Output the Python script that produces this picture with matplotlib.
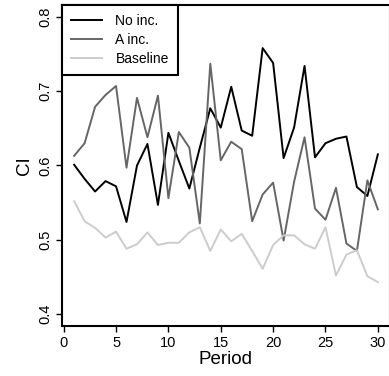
import numpy as np
import matplotlib
matplotlib.use('Agg')
import matplotlib.pyplot as plt

plt.rcParams['font.family'] = ['Liberation Sans', 'DejaVu Sans']

# data
period = list(range(1, 31))
no_inc = [0.601, 0.582, 0.565, 0.579, 0.572, 0.524, 0.600, 0.629, 0.547, 0.644,
          0.606, 0.569, 0.624, 0.677, 0.651, 0.706, 0.647, 0.640, 0.758, 0.738,
          0.610, 0.651, 0.734, 0.611, 0.630, 0.636, 0.639, 0.571, 0.559, 0.615]
a_inc = [0.613, 0.630, 0.679, 0.695, 0.707, 0.597, 0.691, 0.638, 0.694, 0.556,
         0.645, 0.624, 0.522, 0.737, 0.607, 0.632, 0.622, 0.525, 0.561, 0.577,
         0.499, 0.578, 0.638, 0.542, 0.527, 0.570, 0.495, 0.485, 0.580, 0.541]
baseline = [0.552, 0.525, 0.516, 0.503, 0.511, 0.488, 0.494, 0.510, 0.493, 0.496,
            0.496, 0.510, 0.517, 0.485, 0.514, 0.498, 0.508, 0.485, 0.461, 0.493,
            0.506, 0.506, 0.494, 0.488, 0.517, 0.452, 0.480, 0.486, 0.451, 0.443]

W, H = 389, 376
fig = plt.figure(figsize=(W / 100, H / 100), dpi=100)
# plot region runs a little past the right edge of the image
ax = fig.add_axes([62 / W, (H - 326) / H, (390 - 62) / W, (326 - 5) / H])

ax.plot(period, no_inc, color='black', lw=1.4, label='No inc.')
ax.plot(period, a_inc, color='#666666', lw=1.4, label='A inc.')
ax.plot(period, baseline, color='#cccccc', lw=1.4, label='Baseline')

ax.set_xlim(-0.16, 31.16)
ax.set_ylim(0.384, 0.816)
ax.set_xticks([0, 5, 10, 15, 20, 25, 30])
ax.set_yticks([0.4, 0.5, 0.6, 0.7, 0.8])
ax.tick_params(direction='out', length=4, width=1, labelsize=10.5, pad=3)
for lab in ax.get_yticklabels():
    lab.set_rotation(90)
    lab.set_va('center')
for s in ax.spines.values():
    s.set_linewidth(1.5)

ax.set_xlabel('Period', fontsize=13.5, labelpad=1)
ax.set_ylabel('CI', fontsize=13.5, labelpad=4)

leg = ax.legend(loc='upper left', borderaxespad=0, fancybox=False, framealpha=1,
                edgecolor='black', fontsize=10, handlelength=2.2,
                labelspacing=0.35, borderpad=0.65, handletextpad=1.0)
leg.get_frame().set_linewidth(1.5)

fig.savefig('out.png', dpi=100)
